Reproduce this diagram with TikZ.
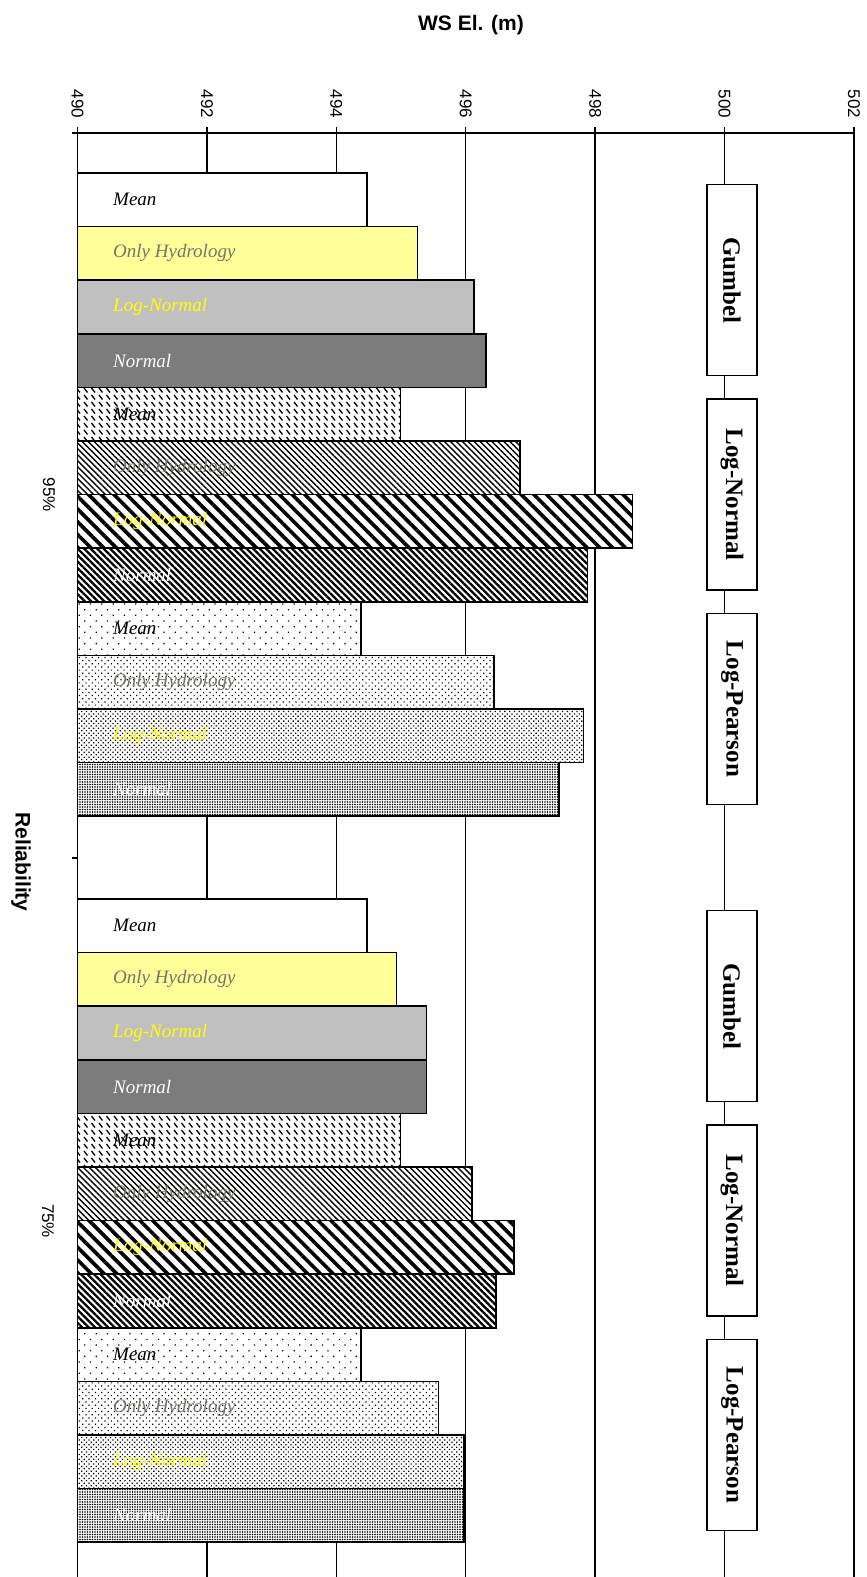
\documentclass[tikz,border=0pt]{standalone}
\usepackage{fontspec}
\setmainfont{Liberation Serif}
\newfontfamily\arialfont{Liberation Sans}
\usetikzlibrary{patterns,patterns.meta}
\definecolor{ohyellow}{HTML}{FFFF99}
\definecolor{silverc}{HTML}{C0C0C0}
\definecolor{grayc}{HTML}{7C7C7C}
\definecolor{ohtext}{HTML}{74746A}
\definecolor{lntext}{HTML}{FFFF00}
\pgfdeclarepatternformonly{dashdiag}{\pgfqpoint{-1pt}{-1pt}}{\pgfqpoint{8.5pt}{8pt}}{\pgfqpoint{7.5pt}{7pt}}{%
  \pgfsetlinewidth{1.3pt}%
  \pgfpathmoveto{\pgfqpoint{1.5pt}{6pt}}%
  \pgfpathlineto{\pgfqpoint{5pt}{1.5pt}}%
  \pgfusepath{stroke}%
}
\begin{document}
\begin{tikzpicture}[x=1pt,y=-1pt,
  gridline/.style={draw=black,line width=1.3pt},
  bar/.style={draw=black,line width=1.6pt},
  barlabel/.style={anchor=west,inner sep=0pt,font=\fontsize{19}{19}\selectfont\itshape},
  ticklabel/.style={rotate=-90,inner sep=0pt,font=\arialfont\fontsize{17}{17}\selectfont},
  axistitle/.style={inner sep=0pt,font=\arialfont\bfseries\fontsize{21}{21}\selectfont},
  catbox/.style={draw=black,line width=1.4pt,fill=white,rotate=-90,minimum width=191pt,minimum height=50pt,inner sep=0pt,font=\bfseries\fontsize{25}{25}\selectfont},
  bs1/.style={fill=white},
  bs2/.style={fill=ohyellow},
  bs3/.style={fill=silverc},
  bs4/.style={fill=grayc},
  bs5/.style={preaction={fill=white},pattern=dashdiag},
  bs6/.style={preaction={fill=white},pattern={Lines[angle=-45,distance=4.2pt,line width=1.4pt]}},
  bs7/.style={preaction={fill=white},pattern={Lines[angle=-45,distance=9pt,line width=3.6pt]}},
  bs8/.style={preaction={fill=white},pattern={Lines[angle=-45,distance=4.6pt,line width=2.3pt]}},
  bs9/.style={preaction={fill=white},pattern={Dots[angle=45,distance=8pt,radius=0.9pt]}},
  bs10/.style={preaction={fill=white},pattern={Dots[angle=45,distance=4.5pt,radius=0.85pt]}},
  bs11/.style={preaction={fill=white},pattern={Dots[angle=45,distance=3.4pt,radius=0.9pt]}},
  bs12/.style={preaction={fill=white},pattern={Dots[distance=2.5pt,radius=0.8pt]}},
  ls1/.style={text=black}, ls2/.style={text=ohtext}, ls3/.style={text=lntext}, ls4/.style={text=white},
  ls5/.style={text=black}, ls6/.style={text=ohtext}, ls7/.style={text=lntext}, ls8/.style={text=white},
  ls9/.style={text=black}, ls10/.style={text=ohtext}, ls11/.style={text=lntext}, ls12/.style={text=white}
]
\useasboundingbox (0,0) rectangle (867,1577);
% titles
\node[axistitle] (title) at (471,25) {WS El. (m)};
\node[axistitle,rotate=-90] (reltitle) at (21,862) {Reliability};
% value axis, grid lines and tick labels
\foreach \v/\xx in {490/77.5,492/206.9,494/336.3,496/465.7,498/595.1,500/724.5,502/853.9}{
  \draw[gridline] (\xx,127) -- (\xx,1577);
  \node[ticklabel] (t\v) at (\xx,104) {\v};
}
\draw[gridline] (77.5,133) -- (853.9,133);
\draw[gridline] (71.5,133) -- (77.5,133);
\draw[gridline] (71.5,858) -- (77.5,858);
% category labels
\node[ticklabel] (c95) at (49,495) {95\%};
\node[ticklabel] (c75) at (48,1221) {75\%};
% bars 95%
\foreach \i/\xe/\txt in {1/367/Mean,2/417.4/Only Hydrology,3/473.7/Log-Normal,4/485.8/Normal,5/400.3/Mean,6/520/Only Hydrology,7/632.6/Log-Normal,8/587.4/Normal,9/361/Mean,10/493.8/Only Hydrology,11/583.4/Log-Normal,12/559.2/Normal}{
  \draw[bar,bs\i] (77.5,{173+(\i-1)*53.6}) rectangle (\xe,{173+\i*53.6});
  \node[barlabel,ls\i] (ga\i) at (113,{173+(\i-0.5)*53.6}) {\txt};
}
% bars 75%
\foreach \i/\xe/\txt in {1/367/Mean,2/396.3/Only Hydrology,3/426.5/Log-Normal,4/426.5/Normal,5/400.3/Mean,6/471.7/Only Hydrology,7/514/Log-Normal,8/495.9/Normal,9/361/Mean,10/438.5/Only Hydrology,11/463.7/Log-Normal,12/463.7/Normal}{
  \draw[bar,bs\i] (77.5,{899+(\i-1)*53.6}) rectangle (\xe,{899+\i*53.6});
  \node[barlabel,ls\i] (gb\i) at (113,{899+(\i-0.5)*53.6}) {\txt};
}
% distribution boxes
\node[catbox] (gum1) at (732,280.2) {Gumbel};
\node[catbox] (logn1) at (732,494.6) {Log-Normal};
\node[catbox] (logp1) at (732,709) {Log-Pearson};
\node[catbox] (gum2) at (732,1006.2) {Gumbel};
\node[catbox] (logn2) at (732,1220.6) {Log-Normal};
\node[catbox] (logp2) at (732,1435) {Log-Pearson};
\end{tikzpicture}
\end{document}
